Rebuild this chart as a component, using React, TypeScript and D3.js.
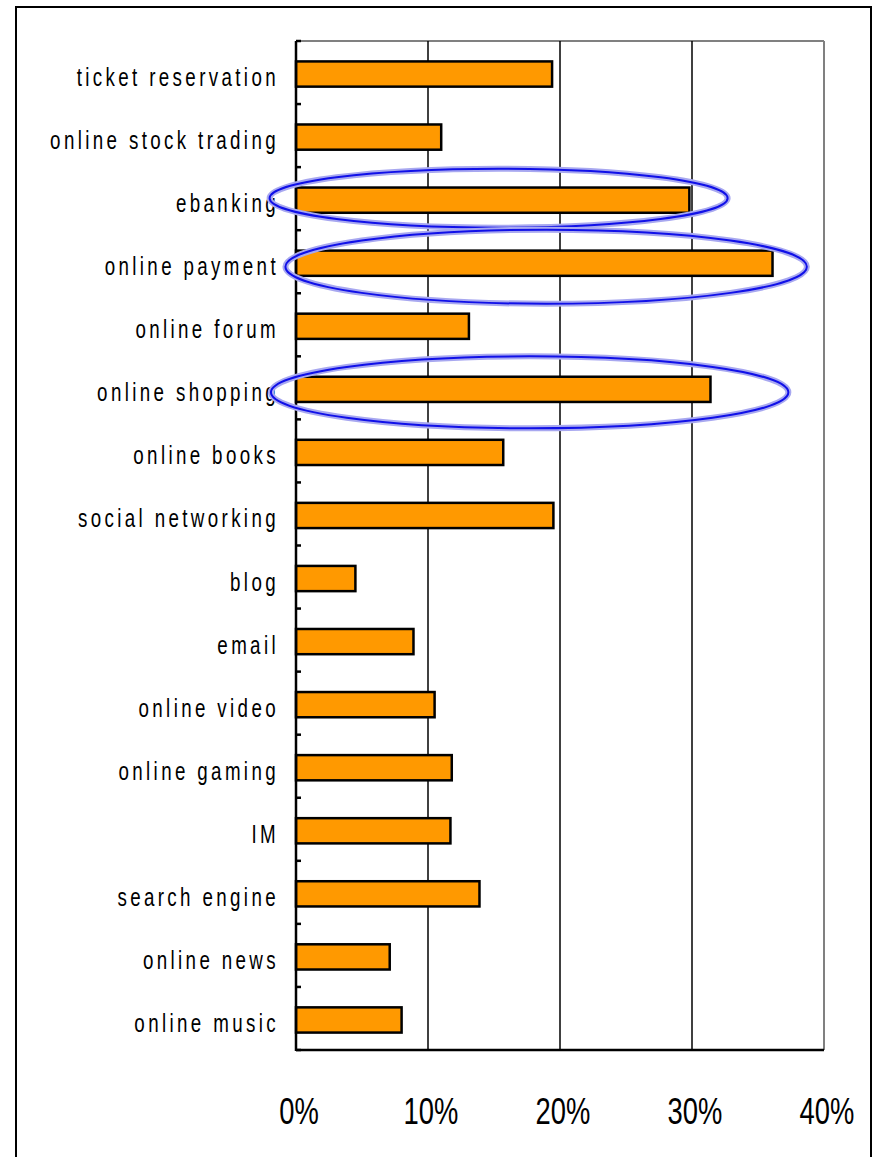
import React from 'react';
import * as d3 from 'd3';

const categories = [
  'ticket reservation',
  'online stock trading',
  'ebanking',
  'online payment',
  'online forum',
  'online shopping',
  'online books',
  'social networking',
  'blog',
  'email',
  'online video',
  'online gaming',
  'IM',
  'search engine',
  'online news',
  'online music',
];

const shares = [19.4, 11.0, 29.8, 36.1, 13.1, 31.4, 15.7, 19.5, 4.5, 8.9, 10.5, 11.8, 11.7, 13.9, 7.1, 8.0];

const xTicks = [0, 10, 20, 30, 40];
const xTickLabels = ['0%', '10%', '20%', '30%', '40%'];

// highlighted rows, with the span of each ring in data units (%)
const highlightCats = ['ebanking', 'online payment', 'online shopping'];
const highlightFrom = [-2.0, -0.8, -1.9];
const highlightTo = [32.7, 38.7, 37.3];

const W = 875;
const H = 1157;
const plot = { left: 296, right: 824, top: 41, bottom: 1050 };
const ringRy = [29.5, 37, 36];
const ringDy = [-0.5, 5, 4.5];

export default function App() {
  const x = d3.scaleLinear().domain([0, 40]).range([plot.left, plot.right]);
  const y = d3
    .scaleBand<string>()
    .domain(categories)
    .range([plot.top, plot.bottom])
    .paddingInner(0.6)
    .paddingOuter(0.3);
  const step = y.step();
  const barShift = 1.5;

  const boundaries = d3.range(categories.length + 1).map((i) => plot.top + i * step);

  return (
    <>
      <style>{'body{margin:0;background:#fff;}'}</style>
      <svg width={W} height={H} style={{ display: 'block', fontFamily: 'Arial, "Liberation Sans", sans-serif' }}>
        <rect x={0} y={0} width={W} height={H} fill="#fff" />
        {/* outer frame */}
        <rect x={16} y={7} width={855} height={H + 20} fill="none" stroke="#000" strokeWidth={2} />

        {/* plot frame top/right */}
        <line x1={plot.left} x2={plot.right} y1={plot.top} y2={plot.top} stroke="#808080" strokeWidth={2} />
        <line x1={plot.right} x2={plot.right} y1={plot.top} y2={plot.bottom} stroke="#808080" strokeWidth={2} />

        {/* gridlines */}
        {xTicks.slice(1, -1).map((t) => (
          <line key={t} x1={x(t)} x2={x(t)} y1={plot.top} y2={plot.bottom} stroke="#000" strokeWidth={1.5} />
        ))}

        {/* bars */}
        {categories.map((c, i) => (
          <rect
            key={c}
            x={x(0)}
            y={(y(c) as number) + barShift}
            width={x(shares[i]) - x(0)}
            height={y.bandwidth()}
            fill="#ff9900"
            stroke="#000"
            strokeWidth={2.5}
          />
        ))}

        {/* axes */}
        <line x1={plot.left} x2={plot.left} y1={plot.top} y2={plot.bottom + 1} stroke="#000" strokeWidth={2.5} />
        <line x1={plot.left} x2={plot.right} y1={plot.bottom} y2={plot.bottom} stroke="#000" strokeWidth={2.5} />
        {boundaries.map((b, i) => (
          <line key={i} x1={plot.left} x2={plot.left + 5} y1={b} y2={b} stroke="#000" strokeWidth={2.5} />
        ))}

        {/* category labels */}
        {categories.map((c) => (
          <text
            key={c}
            transform={`translate(${plot.left - 17},${(y(c) as number) + y.bandwidth() / 2 + barShift + 12}) scale(0.75,1)`}
            textAnchor="end"
            fontSize={25}
            letterSpacing={4.5}
            fill="#000"
          >
            {c}
          </text>
        ))}

        {/* x tick labels */}
        {xTicks.map((t, i) => (
          <text
            key={t}
            transform={`translate(${x(t) + 3},${1124}) scale(0.74,1)`}
            textAnchor="middle"
            fontSize={37}
            fill="#000"
          >
            {xTickLabels[i]}
          </text>
        ))}

        {/* highlight rings */}
        {highlightCats.map((c, i) => {
          const cx = (x(highlightFrom[i]) + x(highlightTo[i])) / 2;
          const rx = (x(highlightTo[i]) - x(highlightFrom[i])) / 2;
          const cy = (y(c) as number) + y.bandwidth() / 2 + ringDy[i];
          return (
            <g key={c}>
              <ellipse cx={cx} cy={cy} rx={rx} ry={ringRy[i]} fill="none" stroke="#a8a8f0" strokeWidth={6} />
              <ellipse cx={cx} cy={cy} rx={rx} ry={ringRy[i]} fill="none" stroke="#1010e8" strokeWidth={2} />
            </g>
          );
        })}
      </svg>
    </>
  );
}
